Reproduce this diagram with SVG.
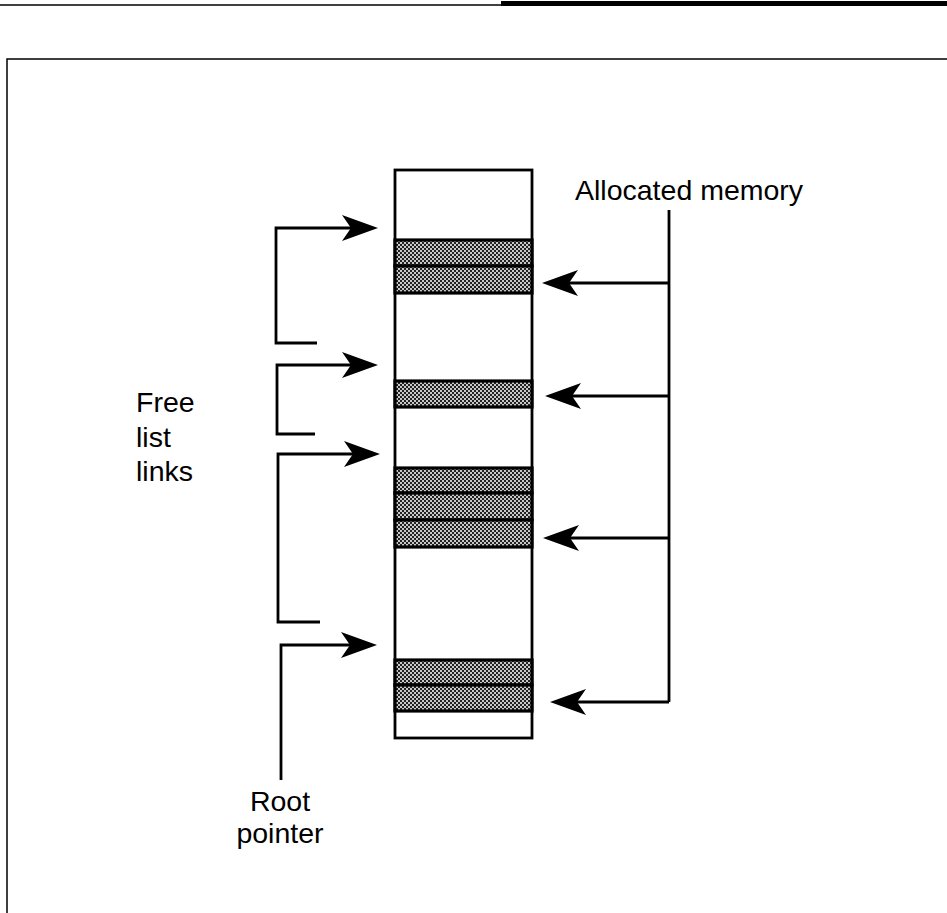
<svg xmlns="http://www.w3.org/2000/svg" width="947" height="913" viewBox="0 0 947 913">
  <style>
    .frame { fill: none; stroke: #000; stroke-width: 1.5; }
    .conn { fill: none; stroke: #000; stroke-width: 2.8; }
    .cell { fill: #fff; stroke: #000; stroke-width: 2.8; }
    .shade { fill: url(#dots); stroke: #000; stroke-width: 3.2; }
    .lbl { font-family: "Liberation Sans", Arial, Helvetica, sans-serif; font-size: 28.5px; fill: #000; }
  </style>
  <defs>
    <pattern id="dots" width="4" height="4" patternUnits="userSpaceOnUse">
      <rect width="4" height="4" fill="#c8c8c8"/>
      <rect width="2" height="2" fill="#222"/>
      <rect x="2" y="2" width="2" height="2" fill="#222"/>
    </pattern>
    <marker id="arrow" viewBox="0 0 36 26" refX="9" refY="13" markerWidth="36" markerHeight="26" markerUnits="userSpaceOnUse" orient="auto">
      <path d="M36,13 L0,0 L9,13 L0,26 Z" fill="#000"/>
    </marker>
  </defs>
  <rect width="947" height="913" fill="#fff"/>

  <g id="page-rules">
    <line x1="0" y1="5" x2="501" y2="5" stroke="#000" stroke-width="1.5"/>
    <rect x="501" y="1" width="446" height="5" fill="#000"/>
    <path class="frame" d="M7,913 V59 H947"/>
  </g>

  <g id="memory">
    <rect class="cell" x="395" y="170" width="137" height="568"/>
    <rect class="shade" x="395" y="240" width="137" height="26"/>
    <rect class="shade" x="395" y="266" width="137" height="27"/>
    <rect class="shade" x="395" y="381" width="137" height="26"/>
    <rect class="shade" x="395" y="468" width="137" height="25"/>
    <rect class="shade" x="395" y="493" width="137" height="27"/>
    <rect class="shade" x="395" y="520" width="137" height="27"/>
    <rect class="shade" x="395" y="660" width="137" height="25"/>
    <rect class="shade" x="395" y="685" width="137" height="26"/>
  </g>

  <g id="connectors">
    <path class="conn" d="M317,343 H276 V228 H351" marker-end="url(#arrow)"/>
    <path class="conn" d="M315,434 H277 V365 H351" marker-end="url(#arrow)"/>
    <path class="conn" d="M320,622 H278 V454 H353" marker-end="url(#arrow)"/>
    <path class="conn" d="M281,780 V645 H350" marker-end="url(#arrow)"/>
    <path class="conn" d="M669,210 V702"/>
    <path class="conn" d="M669,283 H569" marker-end="url(#arrow)"/>
    <path class="conn" d="M669,396 H572" marker-end="url(#arrow)"/>
    <path class="conn" d="M669,538 H570" marker-end="url(#arrow)"/>
    <path class="conn" d="M669,702 H577" marker-end="url(#arrow)"/>
  </g>

  <g id="label-allocated">
    <text class="lbl" x="575" y="200">Allocated memory</text>
  </g>
  <g id="label-free">
    <text class="lbl" x="136" y="412">Free</text>
    <text class="lbl" x="136" y="447">list</text>
    <text class="lbl" x="136" y="481">links</text>
  </g>
  <g id="label-root">
    <text class="lbl" x="280" y="811" text-anchor="middle">Root</text>
    <text class="lbl" x="280" y="843" text-anchor="middle">pointer</text>
  </g>
</svg>
